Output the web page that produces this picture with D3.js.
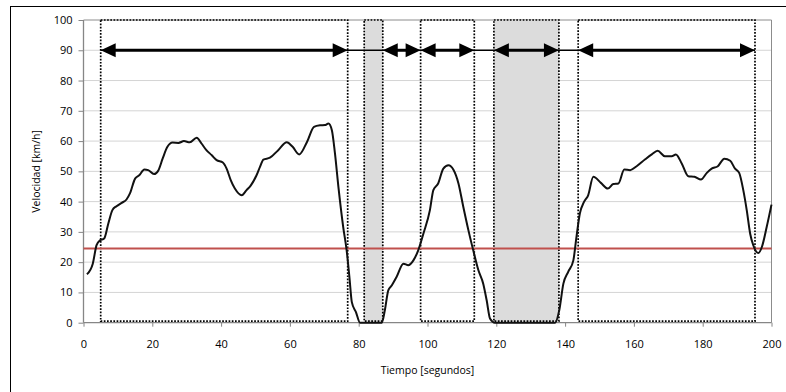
<!DOCTYPE html>
<html>
<head>
<meta charset="utf-8">
<script src="https://cdn.jsdelivr.net/npm/d3@7"></script>
<style>
  body { margin: 0; background: #fff; }
  .tick text { font-family: "Open Sans", sans-serif; font-size: 11px; fill: #000; }
  .titulo { font-family: "Open Sans", sans-serif; font-size: 10.5px; fill: #000; }
</style>
</head>
<body>
<div id="grafico"></div>
<script>
const tiempo = [1, 2.7, 3.8, 4.8, 6, 7.2, 8.4, 9.6, 11.1, 12.5, 13.5, 15, 16.2, 17.7, 18.8, 20.5, 21.8, 23, 24.4, 25.9,
  27.6, 29.2, 30.9, 32.9, 34.3, 35.6, 37.3, 38.7, 40.5, 41.6, 42.8, 44, 46, 47.4, 48.6, 50.3, 51.3, 52.3, 54.2, 56.6,
  59.1, 60.8, 62.7, 65, 67, 68.8, 70.2, 71.2, 72.2, 73.1, 74.1, 75.5, 76.5, 77.3, 78, 79.2, 80.4, 86.7, 87.6, 88.6,
  89.6, 91, 93, 94.4, 95.9, 97.3, 98.8, 100.7, 101.7, 103.1, 104.6, 106.1, 107.5, 109, 110.4, 111.9, 113.3, 114.8, 116.2, 117.2,
  118.2, 119.6, 137.1, 138.3, 139.5, 140.9, 142.4, 143.3, 144.3, 145.5, 146.7, 148.2, 150.4, 152.4, 154, 155.5, 157.2, 158.9,
  160.8, 163.2, 165.2, 166.9, 169, 171, 172.2, 173.9, 175.8, 177.6, 179.5, 181.2, 182.6, 184.4, 186.3, 188, 189.4, 190.6,
  191.8, 192.8, 193.8, 194.7, 196.2, 197.2, 198.6, 200];
const velocidad = [16, 19.5, 25.6, 27.2, 27.8, 32.7, 37.2, 38.5, 39.6, 40.7, 42.7, 47.6, 48.7, 50.6, 50.4, 49.1, 50.4, 54.2, 58.1, 59.5,
  59.4, 60, 59.6, 61.1, 59.2, 57.2, 55.3, 53.7, 52.9, 50.9, 47.1, 44.3, 42.1, 43.8, 45.3, 48.7, 51.5, 53.9, 54.5, 57,
  59.6, 58.1, 55.6, 59.8, 64.7, 65.2, 65.3, 65.8, 63.6, 55.9, 44.9, 31.6, 23.9, 15.1, 6.8, 3.5, 0, 0, 4.1, 10.7,
  12.3, 15.1, 19.5, 19, 20.6, 23.9, 29.4, 37.2, 43.8, 46, 50.9, 52, 50.6, 46, 38.3, 30.5, 23.9, 17.3, 12.9, 7.4,
  1.3, 0, 0, 4.1, 12.9, 16.8, 20.6, 28.3, 36.1, 39.9, 42.1, 48.2, 46.2, 44.3, 45.8, 46, 50.6, 50.4,
  51.7, 53.9, 55.6, 56.8, 55, 55, 55.6, 52.6, 48.4, 48.2, 47.3, 49.5, 50.9, 51.7, 54.2, 53.5, 50.9, 49.5,
  43.8, 37.2, 29.4, 25.6, 23, 25, 31.6, 39];

const xTicks = [0, 20, 40, 60, 80, 100, 120, 140, 160, 180, 200];
const yTicks = [0, 10, 20, 30, 40, 50, 60, 70, 80, 90, 100];

// tramos marcados con linea de puntos; los sombreados son paradas
const tramos = [
  { ini: 5, fin: 76.8, sombra: false },
  { ini: 81.6, fin: 87, sombra: true },
  { ini: 98, fin: 113.6, sombra: false },
  { ini: 119.3, fin: 138.2, sombra: true },
  { ini: 143.8, fin: 195.2, sombra: false }
];
// flechas dobles a 90 km/h
const flechas = [[5, 76.8], [87, 98], [98, 113.6], [119.3, 138.2], [143.8, 195.2]];
const nivelFlechas = 90;
const umbral = 24.5;

const c = { width: 786, height: 392, left: 83.5, right: 771.5, top: 20, bottom: 322.7 };

const svg = d3.select("#grafico").append("svg")
  .attr("width", c.width)
  .attr("height", c.height);

// marco exterior
svg.append("rect")
  .attr("x", 10.5).attr("y", 6.5)
  .attr("width", 800).attr("height", 400)
  .attr("fill", "none").attr("stroke", "#000").attr("stroke-width", 1);

const xScale = d3.scaleLinear().domain([0, 200]).range([c.left, c.right]);
const yScale = d3.scaleLinear().domain([0, 100]).range([c.bottom, c.top]);

// rejilla
svg.append("g")
  .selectAll("line")
  .data(yTicks.filter(d => d > 0))
  .join("line")
  .attr("x1", xScale(0)).attr("x2", xScale(200))
  .attr("y1", d => yScale(d)).attr("y2", d => yScale(d))
  .attr("stroke", d => d === 100 ? "#8c8c8c" : "#d4d4d4")
  .attr("stroke-width", 1);

svg.append("line")
  .attr("x1", xScale(200)).attr("x2", xScale(200))
  .attr("y1", yScale(0)).attr("y2", yScale(100))
  .attr("stroke", "#8c8c8c");

// zonas sombreadas y recuadros punteados
svg.append("g")
  .selectAll("rect")
  .data(tramos)
  .join("rect")
  .attr("x", d => xScale(d.ini))
  .attr("y", yScale(100))
  .attr("width", d => xScale(d.fin) - xScale(d.ini))
  .attr("height", yScale(0) - yScale(100) - 1.5)
  .attr("fill", d => d.sombra ? "#dcdcdc" : "none")
  .attr("stroke", "#000")
  .attr("stroke-width", 1.7)
  .attr("stroke-dasharray", "1.7,1.5");

// ejes
const xAxis = d3.axisBottom(xScale).tickValues(xTicks).tickSize(4).tickPadding(14);
const yAxis = d3.axisLeft(yScale).tickValues(yTicks).tickSize(5).tickPadding(6);

const gx = svg.append("g")
  .attr("transform", `translate(0,${c.bottom})`)
  .call(xAxis);
const gy = svg.append("g")
  .attr("transform", `translate(${c.left},0)`)
  .call(yAxis);
[gx, gy].forEach(g => {
  g.select(".domain").attr("stroke", "#868686").attr("stroke-width", 1.3);
  g.selectAll(".tick line").attr("stroke", "#868686");
});
gy.select(".domain").attr("d", `M0,${c.bottom}V${c.top}`);
gx.select(".domain").attr("d", `M${c.left},0H${c.right}`);

// umbral
svg.append("line")
  .attr("x1", xScale(0)).attr("x2", xScale(200))
  .attr("y1", yScale(umbral)).attr("y2", yScale(umbral))
  .attr("stroke", "#c0504d").attr("stroke-width", 2);

// curva de velocidad
const datos = tiempo.map((t, i) => ({ t: t, v: velocidad[i] }));
const linea = d3.line()
  .x(d => xScale(d.t))
  .y(d => yScale(d.v))
  .curve(d3.curveMonotoneX);

svg.append("path")
  .datum(datos)
  .attr("d", linea)
  .attr("fill", "none")
  .attr("stroke", "#111")
  .attr("stroke-width", 2)
  .attr("stroke-linejoin", "round");

// flechas
const yf = yScale(nivelFlechas);
svg.append("line")
  .attr("x1", xScale(flechas[0][0])).attr("x2", xScale(flechas[flechas.length - 1][1]))
  .attr("y1", yf).attr("y2", yf)
  .attr("stroke", "#000").attr("stroke-width", 1.3);

const gf = svg.append("g");
flechas.forEach(([a, b]) => {
  const x1 = xScale(a), x2 = xScale(b);
  gf.append("line")
    .attr("x1", x1 + 8).attr("x2", x2 - 8)
    .attr("y1", yf).attr("y2", yf)
    .attr("stroke", "#000").attr("stroke-width", 3);
  gf.append("path")
    .attr("d", `M${x1},${yf}L${x1 + 15},${yf - 7}L${x1 + 15},${yf + 7}Z`)
    .attr("fill", "#000");
  gf.append("path")
    .attr("d", `M${x2},${yf}L${x2 - 15},${yf - 7}L${x2 - 15},${yf + 7}Z`)
    .attr("fill", "#000");
});

// titulos
svg.append("text")
  .attr("class", "titulo")
  .attr("text-anchor", "middle")
  .attr("x", (c.left + c.right) / 2)
  .attr("y", 374)
  .text("Tiempo [segundos]");

svg.append("text")
  .attr("class", "titulo")
  .attr("text-anchor", "middle")
  .attr("transform", `translate(40,${(c.top + c.bottom) / 2}) rotate(-90)`)
  .text("Velocidad [km/h]");
</script>
</body>
</html>
